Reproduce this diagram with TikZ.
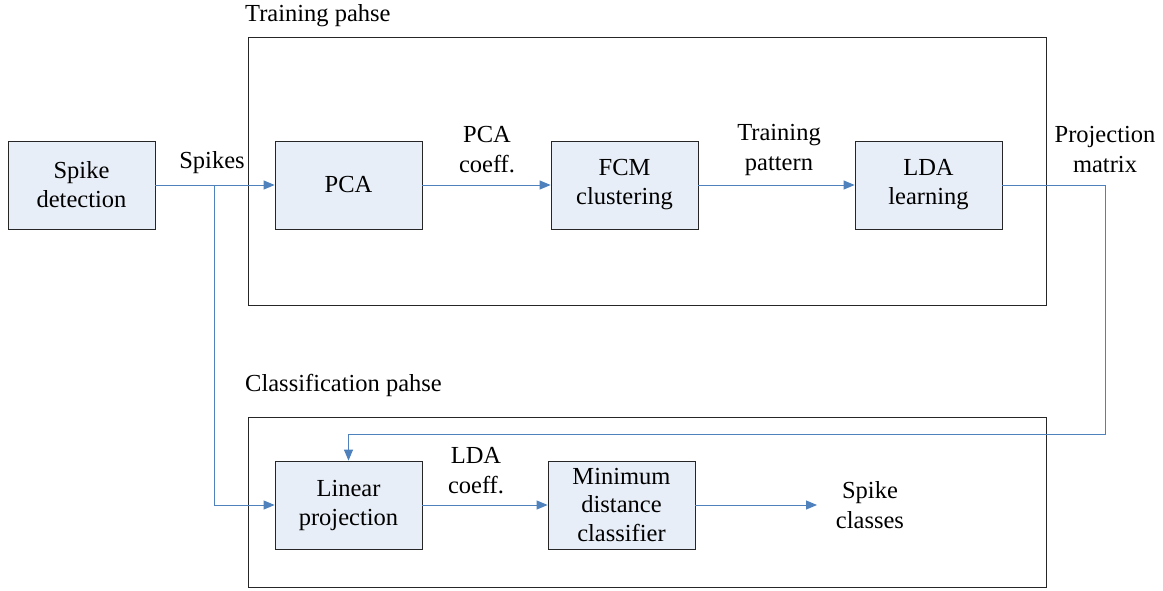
\documentclass[tikz,border=0pt]{standalone}
\usepackage{fontspec}
\setmainfont{Liberation Serif}
\usetikzlibrary{arrows.meta}

\definecolor{boxfill}{RGB}{232,238,247}
\definecolor{flowblue}{RGB}{79,129,189}

\tikzset{
    block/.style={draw=black!85, fill=boxfill, line width=0.8pt,
        minimum width=147pt, minimum height=88pt, inner sep=1pt,
        align=center, font=\fontsize{24.5}{29}\selectfont},
    phase/.style={draw=black!85, line width=0.8pt},
    flow/.style={draw=flowblue, line width=1pt, -{Triangle[length=11pt,width=9pt]}},
    lbl/.style={align=center, inner sep=0pt, font=\fontsize{24.5}{30}\selectfont}
}

\begin{document}
\begin{tikzpicture}[x=1pt,y=-1pt]
    \useasboundingbox (0,0) rectangle (1163,590);

    % phases
    \draw [phase] (248,37) rectangle (1046,305);
    \draw [phase] (248,417) rectangle (1046,587);
    \node (trainlbl) at (245,16) [lbl, anchor=west] {Training pahse};
    \node (classlbl) at (245,385) [lbl, anchor=west] {Classification pahse};

    % blocks
    \node (detect)  at (81.5,185)  [block] {Spike\\detection};
    \node (pca)     at (348.5,185) [block] {PCA};
    \node (fcm)     at (624.5,185) [block] {FCM\\clustering};
    \node (lda)     at (928.5,185) [block] {LDA\\learning};
    \node (linproj) at (348.5,505) [block] {Linear\\projection};
    \node (mindist) at (621.5,505) [block] {Minimum\\distance\\classifier};

    \coordinate (split) at (214,185);
    \coordinate (turn)  at (1105,434);
    \coordinate (out)   at (817,505);

    \draw [flow] (detect.east) -- (pca.west);
    \draw [flow] (pca) -- (fcm);
    \draw [flow] (fcm) -- (lda);
    \draw [flow] (split) |- (linproj.west);
    \draw [flow] (lda.east) -| (turn) -| (linproj.north);
    \draw [flow] (linproj) -- (mindist);
    \draw [flow] (mindist.east) -- (out);

    \node (spikes)   at (212,163)  [lbl] {Spikes};
    \node (pcacoef)  at (487,150)  [lbl] {PCA\\coeff.};
    \node (pattern)  at (779,150)  [lbl] {Training\\pattern};
    \node (projmat)  at (1105,150) [lbl] {Projection\\matrix};
    \node (ldacoef)  at (476,471)  [lbl] {LDA\\coeff.};
    \node (classes)  at (870,505)  [lbl] {Spike\\classes};
\end{tikzpicture}
\end{document}
